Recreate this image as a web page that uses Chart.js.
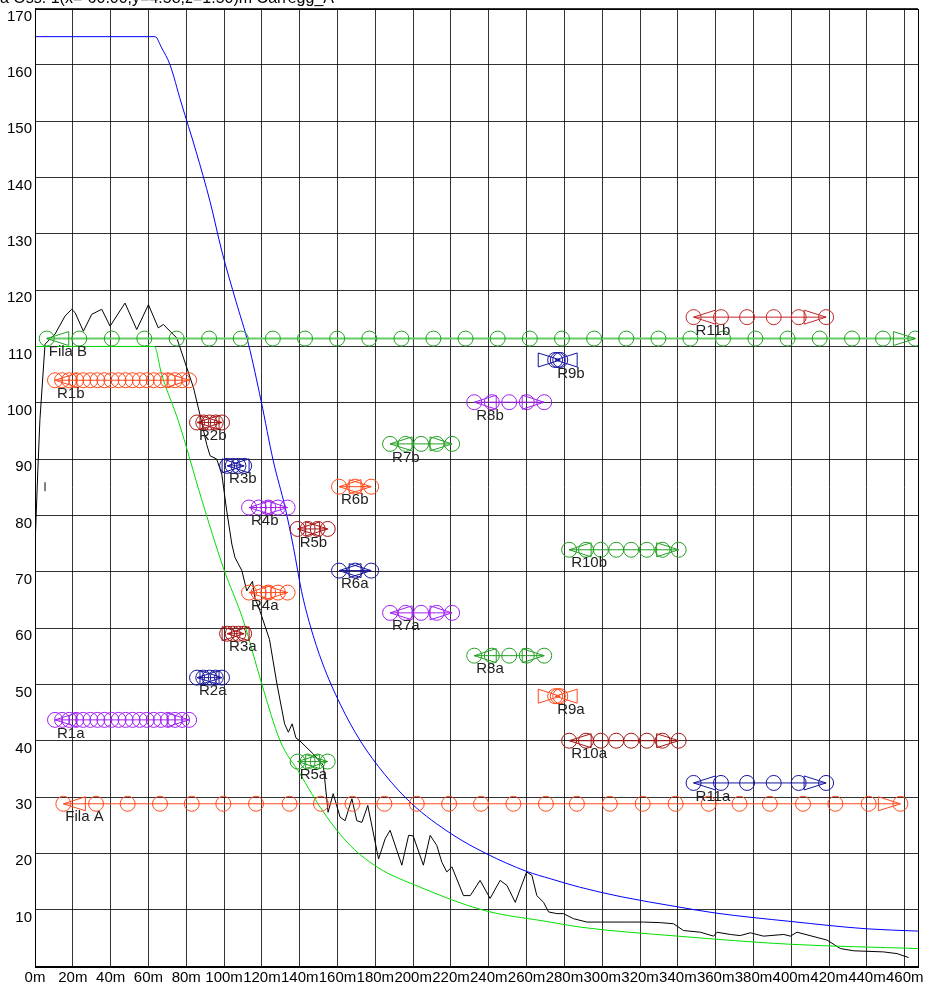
<!DOCTYPE html>
<html><head><meta charset="utf-8">
<script src="https://cdn.jsdelivr.net/npm/chart.js@4.4.1/dist/chart.umd.min.js"></script>
<style>
html,body{margin:0;padding:0;background:#fff;overflow:hidden}
#wrap{position:relative;width:928px;height:985px}
#title{position:absolute;left:0;top:-10px;font:16px "Liberation Sans",Arial,sans-serif;color:#000;white-space:nowrap;line-height:16px}
canvas{position:absolute;left:0;top:0}
</style></head><body>
<div id="wrap"><canvas id="c" width="928" height="985"></canvas><div id="title">a Oss. 1(x=-60.00,y=4.58,z=1.50)m Carregg_A</div></div>
<script>
// ---- tick labels ----
const xTicks = [0,20,40,60,80,100,120,140,160,180,200,220,240,260,280,300,320,340,360,380,400,420,440,460];
const yTicks = [0,10,20,30,40,50,60,70,80,90,100,110,120,130,140,150,160,170];

// ---- curves (x in m) ----
const blueX = [0,63.5,67,71.4,77.2,85.2,92.6,98.9,106.3,112.9,119.6,126,132.3,136.7,141,145.5,152,161.4,172,185,199.3,220,239,260,272.5,288,310,340,360,400,440,467];
const blueY = [165,165,163,160,153.4,144.6,135.7,126.8,118.0,110.4,100.3,89.7,81.4,74.3,66.5,60.5,53.8,46.5,40,34,28.8,23.5,19.9,16.8,15.5,14.0,12.3,10.5,9.4,7.9,6.6,6.2];

const greenX = [0,63.1,67,75.8,88,99.6,110.2,120,129.6,140.2,150.8,165,180.8,203.7,237.2,272.5,288.4,340,400,467];
const greenY = [110,110,105,96.8,83,70.7,61.3,50,40,34.1,28.2,22,17.6,14.0,9.9,7.8,6.9,5.3,3.85,3.1];

const blackX = [0,1.5,2.6,5.3,10.6,15.9,19.4,21.2,25.6,30,35.3,39.7,47.6,53.8,60,65.2,67.9,75,80.3,83.8,87.3,90.8,92.6,96.1,98.8,101.4,104.1,105.8,109.4,112,115,116.5,118,120,124,128,132,134,136,138,140,147,152.5,155,157.7,161.4,164,167.6,170.2,172.9,176,181.7,185.2,187.8,194,197.6,200,205.4,209,212.5,215.2,217.8,220.5,226.6,230.2,235.4,240.7,246,249.6,254,260,262.8,265.4,269,271.6,276,279.5,284.8,291.9,299,313,321.9,330.7,337.7,343,351.9,358.9,360.7,367.7,373,378.3,385.3,396,399.5,403,418.9,425.9,433,448.8,455.9,462];
const blackY = [74.5,88,97,110.4,112.2,115.4,116.6,116,112.7,115.7,116.6,113.6,117.7,113,117.4,113.3,113.9,111.5,106.2,102.7,97.8,92.6,90.6,90,87.3,80.8,74.9,72.5,70.2,66.6,68.3,65,64,62,58,50,43,41.5,43,40.5,40,37.7,35.6,27.3,30.6,26.4,25.8,29.7,25.8,25.5,28.5,19,22.6,24.1,17.9,23.2,23.1,17.9,23.2,21.4,18.4,16.7,17.6,12.5,12.5,15.2,12,15.2,14.3,11.3,16.7,16.1,12.5,11.3,9.6,9.3,9.3,8.4,7.8,7.8,7.8,7.8,7.7,7.5,6.3,6.0,5.3,6.0,5.6,5.4,5.9,5.3,5.6,5.3,6.0,4.6,3.1,2.7,2.5,2.2,1.5];
const tickX = [5.3,5.3];
const tickY = [84.3,85.9];

// ---- marker rows ----
const rowNames = ['Fila A','Fila B','R1b','R1a','R2b','R2a','R3b','R3a','R4b','R4a','R5b','R5a','R6b','R6a','R7b','R7a','R8b','R8a','R9b','R9a','R10b','R10a','R11b','R11a'];
const rowY = [28.8,111.4,104.0,43.7,96.5,51.2,88.8,59.0,81.4,66.3,77.6,36.3,85.1,70.2,92.7,62.7,100.1,55.1,107.6,47.9,73.9,40.0,115.2,32.5];
const filaAX = [15.0,32.3,49.0,66.1,82.9,99.6,116.9,134.6,151.2,167.9,184.8,201.9,219.0,235.9,253.0,270.2,286.6,304.0,321.4,338.8,356.3,372.6,388.6,406.2,423.3,440.9,457.7];
const filaBX = [6.2,23.4,40.6,57.8,74.9,92.1,108.8,125.8,142.8,159.8,176.8,193.8,210.7,227.7,244.7,261.7,278.7,295.7,312.7,329.7,346.6,363.9,381.0,398.0,415.0,432.1,448.5,465.6];
const r1X = [10.6,14.3,18.1,21.8,25.5,29.3,33.0,36.7,40.4,44.2,47.9,51.6,55.4,59.1,62.8,66.6,70.3,74.0,77.8,81.5];
const r2X = [85.7,89.0,92.3,95.6,98.9];
const r3X = [101.6,104.6,107.6,110.6];
const r4X = [113.2,118.3,123.4,128.5,133.6];
const r5X = [138.9,144.2,149.5,154.8];
const r6X = [160.8,169.3,177.8];
const r7X = [187.8,196.0,204.2,212.4,220.6];
const r8X = [232.3,241.6,250.8,260.1,269.3];
const r9X = [275.1,276.5,277.8];
const r10X = [282.5,291.4,299.3,307.4,315.3,323.6,331.9,340.4];
const r11X = [348.3,362.8,376.6,390.7,403.9,418.4];
const rowX = [filaAX,filaBX,r1X,r1X,r2X,r2X,r3X,r3X,r4X,r4X,r5X,r5X,r6X,r6X,r7X,r7X,r8X,r8X,r9X,r9X,r10X,r10X,r11X,r11X];

// ---- styles ----
const C = {or:'#ff4a1c', pu:'#a020f0', dr:'#a41414', nv:'#1414a0', gr:'#22a022', cr:'#c02828'};
const rowColor = [C.or,C.gr,C.or,C.pu,C.dr,C.nv,C.nv,C.dr,C.pu,C.or,C.dr,C.gr,C.or,C.nv,C.gr,C.pu,C.pu,C.gr,C.nv,C.or,C.gr,C.dr,C.cr,C.nv];
const rowLine = rowColor.map((c,i)=> i===1 ? '#66cc66' : c);
const rowLineW = rowColor.map((c,i)=> i===1 ? 2 : 1);

const pts = (xs, ys) => xs.map((x,i)=>({x:x, y:ys[i]}));
const datasets = [];
rowNames.forEach((n,i)=>{
  datasets.push({label:n, isRow:true, rowIndex:i,
    data: rowX[i].map(x=>({x:x, y:rowY[i]})),
    borderColor: rowLine[i], borderWidth: rowLineW[i],
    pointRadius: 7.5, pointStyle:'circle', pointBackgroundColor:'rgba(0,0,0,0)',
    pointBorderColor: rowColor[i], pointBorderWidth: 1, showLine:true, tension:0, order:1});
});
datasets.push({label:'blue', data: pts(blueX, blueY), borderColor:'#0000ff', borderWidth:1, pointRadius:0, cubicInterpolationMode:'monotone', order:2});
datasets.push({label:'green', data: pts(greenX, greenY), borderColor:'#00e000', borderWidth:1, pointRadius:0, cubicInterpolationMode:'monotone', order:2});
datasets.push({label:'black', data: pts(blackX, blackY), borderColor:'#000000', borderWidth:1, pointRadius:0, tension:0, order:2});
datasets.push({label:'tick', data: pts(tickX, tickY), borderColor:'#000000', borderWidth:1, pointRadius:0, tension:0, order:2});

const FONT = '"Liberation Sans", Arial, sans-serif';
const rowDeco = {
  id:'rowDeco',
  afterDatasetsDraw(chart){
    const ctx = chart.ctx, xs = chart.scales.x, ys = chart.scales.y, a = chart.chartArea;
    ctx.save();
    chart.data.datasets.forEach(ds=>{
      if(!ds.isRow) return;
      const i = ds.rowIndex;
      const x0 = xs.getPixelForValue(ds.data[0].x);
      const x1 = xs.getPixelForValue(ds.data[ds.data.length-1].x);
      const y = ys.getPixelForValue(rowY[i]);
      ctx.strokeStyle = rowColor[i]; ctx.lineWidth = 1;
      ctx.beginPath();
      ctx.moveTo(x0, y); ctx.lineTo(x0+22, y-7); ctx.lineTo(x0+22, y+7); ctx.closePath();
      ctx.moveTo(x1, y); ctx.lineTo(x1-22, y-7); ctx.lineTo(x1-22, y+7); ctx.closePath();
      ctx.stroke();
      ctx.fillStyle = '#222'; ctx.font = '15px ' + FONT; ctx.textBaseline = 'top'; ctx.textAlign='left';
      ctx.fillText(rowNames[i], x0 + 2, y + 6);
    });
    ctx.strokeStyle = '#000'; ctx.lineWidth = 1;
    ctx.strokeRect(Math.round(a.left)+0.5, Math.round(a.top)+0.5, Math.round(a.right-a.left), Math.round(a.bottom-a.top));
    ctx.restore();
  }
};

new Chart(document.getElementById('c'), {
  type:'line',
  data:{datasets},
  options:{
    responsive:false, animation:false, devicePixelRatio:1,
    layout:{padding:{left:0, top:7, right:10, bottom:0}},
    plugins:{legend:{display:false}, tooltip:{enabled:false}},
    scales:{
      x:{type:'linear', min:0, max:467,
        afterBuildTicks(s){ s.ticks = xTicks.map(v=>({value:v})); },
        afterFit(s){ s.height = 19; s.paddingLeft = 0; s.paddingRight = 0; },
        grid:{color:'rgba(0,0,0,0.8)', lineWidth:1, drawTicks:false},
        border:{color:'#000'},
        ticks:{padding:3, maxRotation:0, autoSkip:false, color:'#000', font:{family:FONT, size:15}, callback:v=>v+'m', labelOffset:0}
      },
      y:{type:'linear', min:0, max:170,
        afterBuildTicks(s){ s.ticks = yTicks.map(v=>({value:v})); },
        afterFit(s){ s.width = 35; s.paddingTop = 0; s.paddingBottom = 0; },
        grid:{color:'rgba(0,0,0,0.8)', lineWidth:1, drawTicks:false},
        border:{color:'#000'},
        ticks:{padding:3, autoSkip:false, color:'#000', font:{family:FONT, size:15}, labelOffset:8, callback:v=> v===0 ? '' : String(v)}
      }
    }
  },
  plugins:[rowDeco]
});
</script>
</body></html>
